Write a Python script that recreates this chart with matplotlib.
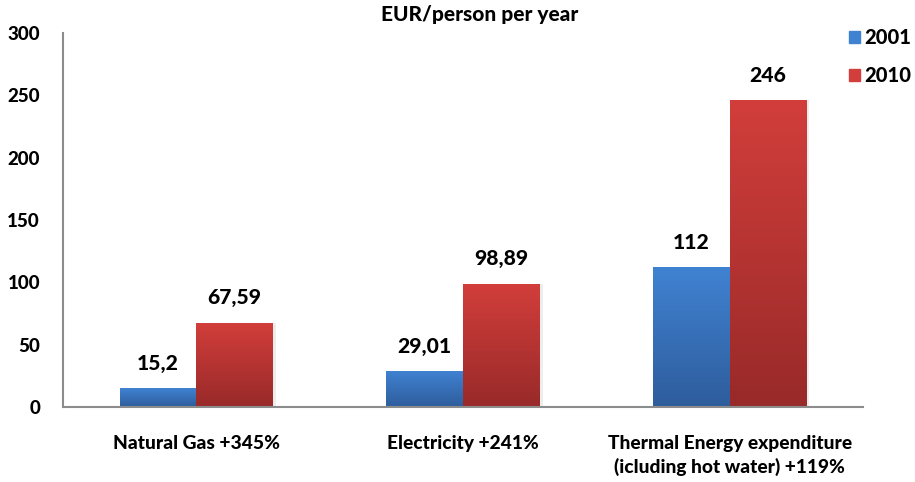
import numpy as np
import matplotlib
matplotlib.use("Agg")
import matplotlib.pyplot as plt
from matplotlib.colors import LinearSegmentedColormap

plt.rcParams['font.family'] = ['Lato', 'DejaVu Sans']
BOLD = 900

categories = ["Natural Gas +345%", "Electricity +241%",
              "Thermal Energy expenditure\n(icluding hot water) +119%"]
years = ["2001", "2010"]
values_2001 = [15.2, 29.01, 112]
values_2010 = [67.59, 98.89, 246]
labels_2001 = ["15,2", "29,01", "112"]
labels_2010 = ["67,59", "98,89", "246"]
y_ticks = [0, 50, 100, 150, 200, 250, 300]

# top colour, bottom colour of each series
blue = ("#4082d2", "#2e5d9c")
red = ("#d23e3b", "#982a29")

fig = plt.figure(figsize=(9.15, 4.82), dpi=100)
ax = fig.add_axes([63 / 915, 75 / 482, 800 / 915, 374 / 482])

x = np.arange(len(categories))
width = 0.287


def gradient_bars(xs, heights, colors):
    cmap = LinearSegmentedColormap.from_list("g", [colors[1], colors[0]])
    bars = ax.bar(xs, heights, width, color="none", edgecolor="none", zorder=2)
    grad = np.linspace(0, 1, 256).reshape(-1, 1)
    for b in bars:
        x0, y0 = b.get_x(), b.get_y()
        w, h = b.get_width(), b.get_height()
        # soft shadow on the right edge
        ax.bar(x0 + w / 2 + 0.012, h, w, bottom=y0, color="#000000",
               alpha=0.07, edgecolor="none", zorder=1)
        img = ax.imshow(grad, cmap=cmap, origin="lower", aspect="auto",
                        extent=[x0, x0 + w, y0, y0 + h], zorder=2)
        img.set_clip_path(b)
    return bars


bars_a = gradient_bars(x - width / 2, values_2001, blue)
bars_b = gradient_bars(x + width / 2, values_2010, red)

for bars, labels in ((bars_a, labels_2001), (bars_b, labels_2010)):
    for b, lab in zip(bars, labels):
        ax.annotate(lab, (b.get_x() + b.get_width() / 2, b.get_height()),
                    xytext=(0, 11), textcoords="offset points",
                    ha="center", va="bottom", fontsize=15.2, fontweight=BOLD)

ax.set_xlim(-0.5, len(categories) - 0.5)
ax.set_ylim(0, 300)
ax.set_yticks(y_ticks)
ax.set_yticklabels([str(t) for t in y_ticks], fontsize=13.5, fontweight=BOLD)
ax.set_xticks(x)
ax.set_xticklabels(categories, fontsize=13.8, fontweight=BOLD, linespacing=1.4)
ax.tick_params(axis="y", length=0, pad=16.5)
ax.tick_params(axis="x", length=0, pad=20)

for side in ("top", "right"):
    ax.spines[side].set_visible(False)
for side in ("left", "bottom"):
    ax.spines[side].set_color("#8c8c8c")
    ax.spines[side].set_linewidth(1.5)

fig.text(480 / 915, 1 - 15 / 482, "EUR/person per year", ha="center", va="center",
         fontsize=15, fontweight=BOLD)

# legend drawn as squares with labels
for i, (yr, col) in enumerate(zip(years, (blue, red))):
    yy = 1 - (37 + 38 * i) / 482
    fig.patches.append(plt.Rectangle((849 / 915, yy - 6 / 482), 11 / 915, 12 / 482,
                                     transform=fig.transFigure, color=col[0],
                                     figure=fig))
    fig.text(864 / 915, yy, yr, ha="left", va="center", fontsize=14.5,
             fontweight=BOLD)

fig.savefig("out.png", dpi=100)
